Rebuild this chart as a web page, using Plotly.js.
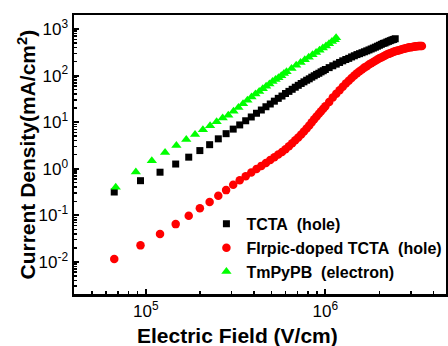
<!DOCTYPE html>
<html>
<head>
<meta charset="utf-8">
<script src="https://cdn.plot.ly/plotly-3.0.1.min.js"></script>
<style>html,body{margin:0;padding:0;background:#fff;}#chart{width:448px;height:346px;}</style>
</head>
<body>
<div id="chart"></div>
<script>
// Electric field (V/cm) and current density (mA/cm^2)
const seriesNames = ["TCTA\u00a0\u00a0(hole)", "FIrpic-doped TCTA\u00a0\u00a0(hole)", "TmPyPB\u00a0\u00a0(electron)"];

const tctaField = [66700, 93400, 120000, 146700, 173400, 200000, 226700, 253400, 280000, 306700,
  333400, 360000, 386700, 413400, 440000, 466700, 493400, 520000, 546700, 573400,
  600000, 626700, 653400, 680000, 706700, 733400, 760000, 786700, 813400, 840000,
  866700, 893400, 920000, 946700, 973400, 1000000, 1050000, 1100000, 1150000, 1200000,
  1250000, 1300000, 1350000, 1400000, 1450000, 1500000, 1550000, 1600000, 1650000, 1700000,
  1750000, 1800000, 1850000, 1900000, 1950000, 2000000, 2050000, 2100000, 2150000, 2200000,
  2250000, 2300000, 2350000, 2400000, 2450000];
const tctaJ = [0.316, 0.553, 0.841, 1.26, 1.77, 2.45, 3.28, 4.38, 5.65, 7.08,
  8.71, 10.7, 12.9, 15.5, 18.2, 21.4, 24.5, 28.2, 32.4, 36.3,
  41.2, 45.7, 50.7, 56.2, 61.7, 67.6, 73.3, 79.4, 85.1, 92.3,
  98.9, 106, 112, 120, 127, 135, 148, 162, 176, 191,
  207, 221, 234, 251, 266, 282, 295, 309, 324, 339,
  355, 372, 389, 407, 427, 447, 468, 490, 501, 525,
  543, 562, 582, 596, 617];

const firpicField = [66700, 93400, 120000, 146700, 173400, 200000, 226700, 253400, 280000, 306700,
  333400, 360000, 386700, 413400, 440000, 466700, 493400, 520000, 546700, 573400,
  600000, 626700, 653400, 680000, 706700, 733400, 760000, 786700, 813400, 840000,
  866700, 893400, 920000, 946700, 973400, 1000000, 1050000, 1100000, 1150000, 1200000,
  1250000, 1300000, 1350000, 1400000, 1450000, 1500000, 1550000, 1600000, 1650000, 1700000,
  1750000, 1800000, 1850000, 1900000, 1950000, 2000000, 2050000, 2100000, 2150000, 2200000,
  2250000, 2300000, 2350000, 2400000, 2450000, 2500000, 2550000, 2600000, 2650000, 2700000,
  2750000, 2800000, 2850000, 2900000, 2950000, 3000000, 3050000, 3100000, 3150000, 3200000,
  3250000, 3300000, 3350000, 3400000, 3450000];
const firpicJ = [0.0115, 0.0226, 0.0398, 0.0646, 0.0977, 0.141, 0.193, 0.263, 0.347, 0.452,
  0.562, 0.692, 0.832, 0.989, 1.15, 1.33, 1.53, 1.76, 2.02, 2.29,
  2.63, 3.02, 3.51, 4.07, 4.68, 5.43, 6.31, 7.33, 8.51, 9.89,
  11.5, 13.2, 15.1, 17.2, 19.3, 21.9, 26.9, 33.9, 40.7, 48.4,
  57.5, 67.6, 77.6, 89.1, 100, 112, 123, 135, 148, 158,
  172, 184, 195, 209, 221, 234, 245, 257, 269, 282,
  292, 302, 313, 324, 331, 339, 347, 355, 363, 372,
  376, 385, 389, 398, 403, 407, 412, 417, 422, 425,
  427, 429, 430, 431, 432];

const tmpypbField = [68000, 88000, 108000, 128000, 148000, 168000, 188000, 208000, 228000, 248000,
  268000, 288000, 308000, 328000, 348000, 368000, 388000, 408000, 428000, 448000,
  468000, 488000, 508000, 528000, 548000, 568000, 588000, 608000, 648000, 688000,
  728000, 768000, 808000, 848000, 888000, 928000, 968000, 1008000, 1048000, 1088000,
  1128000, 1148000];
const tmpypbJ = [0.398, 0.851, 1.48, 2.22, 3.13, 4.22, 5.43, 6.84, 8.41, 10.2,
  12.2, 14.1, 17.2, 20.7, 24.8, 29.5, 34.7, 40.3, 45.7, 51.9,
  58.9, 66.1, 74.1, 82.2, 90.2, 98.9, 110, 120, 141, 166,
  191, 219, 248, 279, 313, 351, 389, 432, 479, 537,
  589, 646];

const yTickVals = [0.01, 0.1, 1, 10, 100, 1000];
const yTickText = ["10<sup>-2</sup>", "10<sup>-1</sup>", "10<sup>0</sup>", "10<sup>1</sup>", "10<sup>2</sup>", "10<sup>3</sup>"];
const xTickVals = [1e5, 1e6];
const xTickText = ["10<sup>5</sup>", "10<sup>6</sup>"];

const FONT = "Liberation Sans, Arial, sans-serif";

const traces = [
  {x: tctaField, y: tctaJ, name: seriesNames[0], type: "scatter", mode: "markers",
   marker: {symbol: "square", size: 7, color: "#000000"}},
  {x: firpicField, y: firpicJ, name: seriesNames[1], type: "scatter", mode: "markers",
   marker: {symbol: "circle", size: 8.5, color: "#ff0000"}},
  {x: tmpypbField, y: tmpypbJ, name: seriesNames[2], type: "scatter", mode: "markers",
   marker: {symbol: "triangle-up", size: 9, color: "#00ff00"}}
];

const axisCommon = {
  type: "log", showgrid: false, zeroline: false,
  showline: true, linecolor: "#000", linewidth: 2.5, mirror: true,
  ticks: "inside", ticklen: 5, tickwidth: 2, tickcolor: "#000",
  tickmode: "array",
  tickfont: {family: FONT, size: 17, color: "#000"},
  minor: {ticks: "inside", ticklen: 3, tickwidth: 1.5, tickcolor: "#000", dtick: "D1", showgrid: false}
};

const layout = {
  width: 448, height: 346,
  margin: {l: 74, r: 1, t: 15, b: 52},
  paper_bgcolor: "#fff", plot_bgcolor: "#fff",
  showlegend: true,
  legend: {x: 0.355, y: 0.312, xanchor: "left", yanchor: "top", bgcolor: "rgba(0,0,0,0)",
           font: {family: FONT, size: 16, color: "#000", weight: "bold"}, tracegroupgap: 0},
  xaxis: Object.assign({}, axisCommon, {range: [4.6, 6.672], tickvals: xTickVals, ticktext: xTickText}),
  yaxis: Object.assign({}, axisCommon, {range: [-2.69, 3.3], tickvals: yTickVals, ticktext: yTickText}),
  annotations: [
    {text: "Electric Field (V/cm)", xref: "paper", yref: "paper", x: 0.44, y: -0.15,
     xanchor: "center", yanchor: "middle", showarrow: false,
     font: {family: FONT, size: 21, color: "#000", weight: "bold"}},
    {text: "Current Density(mA/cm<sup>2</sup>)", xref: "paper", yref: "paper", x: -0.129, y: 0.5,
     xanchor: "center", yanchor: "middle", textangle: -90, showarrow: false,
     font: {family: FONT, size: 21, color: "#000", weight: "bold"}}
  ]
};

Plotly.newPlot("chart", traces, layout, {staticPlot: true, displayModeBar: false});
</script>
</body>
</html>
